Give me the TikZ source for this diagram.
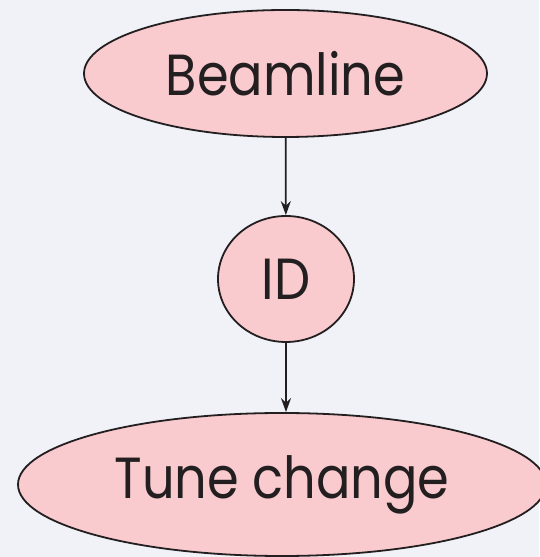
\documentclass[tikz,border=0pt]{standalone}
\usepackage{fontspec}
\setmainfont{Poppins}[FakeStretch=0.88]
\usetikzlibrary{shapes.geometric,arrows.meta}
\definecolor{pagebg}{HTML}{F0F2F8}
\definecolor{nodefill}{HTML}{F9CBCE}
\definecolor{ink}{HTML}{231F20}
\tikzset{
  stagenode/.style={ellipse, draw=ink, fill=nodefill, line width=1.8pt,
    inner sep=0pt, text=ink, font=\fontsize{58}{58}\selectfont},
  flowarrow/.style={draw=ink, line width=1.8pt,
    -{Stealth[length=14pt,width=10pt]}}
}
\begin{document}
\begin{tikzpicture}[x=1pt,y=1pt]
  \fill[pagebg] (0,0) rectangle (539,557);
  \useasboundingbox (0,0) rectangle (539,557);
  \node[stagenode, minimum width=403pt, minimum height=127pt] (beam) at (285.5,483.5) {Beamline};
  \node[stagenode, minimum width=136pt, minimum height=126pt] (id) at (286,278) {ID};
  \node[stagenode, minimum width=528pt, minimum height=143pt] (tune) at (282,72.5) {Tune change};
  \draw[flowarrow] (beam) -- (id);
  \draw[flowarrow] (id) -- (id |- tune.north);
\end{tikzpicture}
\end{document}
